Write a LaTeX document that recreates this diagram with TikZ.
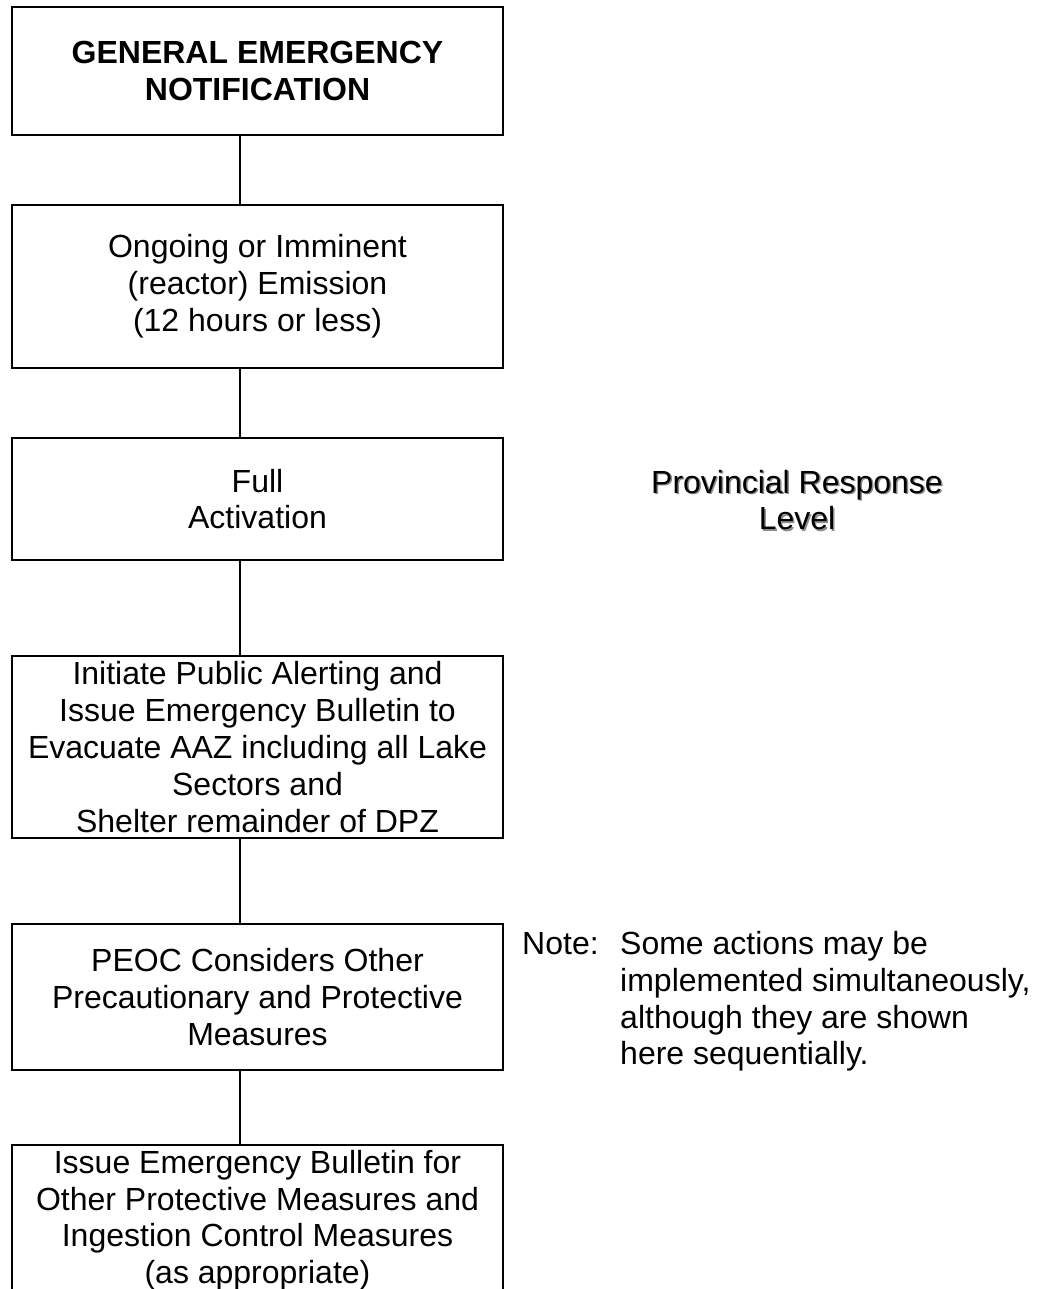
\documentclass[tikz,border=0pt]{standalone}
\usepackage{fontspec}
\setmainfont{Liberation Sans}
\begin{document}
\begin{tikzpicture}[x=1pt,y=1pt,
  txt/.style={font=\fontsize{32}{36.8}\selectfont},
  box/.style={txt, draw=black, line width=2pt, minimum width=491pt, align=center, inner xsep=0pt, inner ysep=0pt},
  link/.style={draw=black, line width=2pt},
  plain/.style={txt, align=center, inner sep=0pt}]
\useasboundingbox (0,0) rectangle (1042,-1289);
\clip (0,0) rectangle (1042,-1289);
\fill[white] (0,0) rectangle (1042,-1289);
\coordinate (cx) at (240,0);
\node[box, minimum height=128pt, font=\bfseries\fontsize{32}{36.8}\selectfont] (b1) at (257.5,-71) {GENERAL EMERGENCY\\NOTIFICATION};
\node[box, minimum height=163pt] (b2) at (257.5,-286.5) {Ongoing or Imminent\\(reactor) Emission\\(12 hours or less)};
\node[box, minimum height=122pt] (b3) at (257.5,-499) {Full\\Activation};
\node[box, minimum height=182pt] (b4) at (257.5,-747) {Initiate Public Alerting and\\Issue Emergency Bulletin to\\Evacuate AAZ including all Lake\\Sectors and\\Shelter remainder of DPZ};
\node[box, minimum height=146pt] (b5) at (257.5,-997) {PEOC Considers Other\\Precautionary and Protective\\Measures};
\node[box, anchor=north, inner ysep=5pt] (b6) at (257.5,-1144) {Issue Emergency Bulletin for\\Other Protective Measures and\\Ingestion Control Measures\\(as appropriate)};
\draw[link] (b1.south -| cx) -- (b2.north -| cx);
\draw[link] (b2.south -| cx) -- (b3.north -| cx);
\draw[link] (b3.south -| cx) -- (b4.north -| cx);
\draw[link] (b4.south -| cx) -- (b5.north -| cx);
\draw[link] (b5.south -| cx) -- (b6.north -| cx);
\node[plain, text=black!45] (provshadow) at (798.5,-501.5) {Provincial Response\\Level};
\node[plain, text=black] (prov) at (797,-500) {Provincial Response\\Level};
\node[txt, inner sep=0pt, anchor=base west] (note) at (522,-954.5) {\begin{tabular}[t]{@{}l@{}l@{}}\makebox[98pt][l]{Note:} & Some actions may be\\ & implemented simultaneously,\\ & although they are shown\\ & here sequentially.\end{tabular}};
\end{tikzpicture}
\end{document}
